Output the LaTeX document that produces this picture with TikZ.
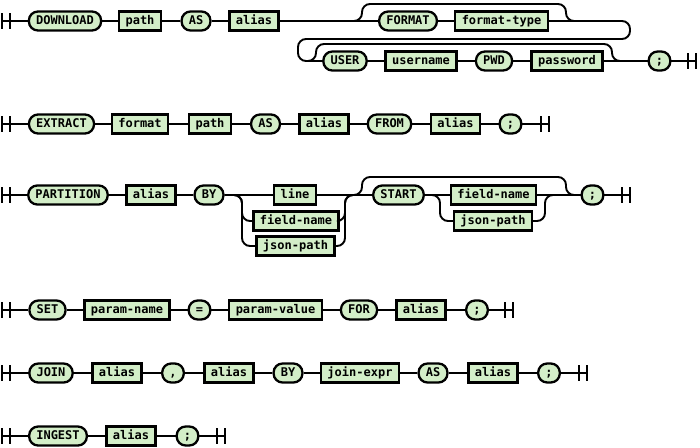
\documentclass[tikz,border=0pt]{standalone}
\usepackage{fontspec}
\setmonofont{DejaVu Sans Mono}
\usetikzlibrary{positioning}
\definecolor{boxgreen}{HTML}{D3EEC8}
\tikzset{
  rail/.style={line width=1.9pt},
  railbox/.style={draw=black, line width=2.3pt, fill=boxgreen, minimum height=19pt, inner ysep=0pt, text height=8.8pt, text depth=2.4pt, font=\ttfamily\bfseries\fontsize{12}{12}\selectfont},
  term/.style={railbox, rounded corners=9pt, inner xsep=7.2pt},
  nonterm/.style={railbox, inner xsep=6.5pt},
  railbars/.pic={\draw[rail] (0,-8) -- (0,8) (8,-8) -- (8,8);}
}
\begin{document}
\begin{tikzpicture}[x=1pt, y=-1pt]
  \useasboundingbox (0,0) rectangle (700,447);
  % DOWNLOAD
  \node[term] (download) at (65,21) {DOWNLOAD};
  \node[nonterm] (dlpath) at (140,21) {path};
  \node[term] (dlas) at (196,21) {AS};
  \node[nonterm] (dlalias) at (254,21) {alias};
  \node[term] (dlformat) at (408,21) {FORMAT};
  \node[nonterm] (dltype) at (501.5,21) {format-type};
  \node[term] (dluser) at (345,61) {USER};
  \node[nonterm] (dlname) at (421,61) {username};
  \node[term] (dlpwd) at (494,61) {PWD};
  \node[nonterm] (dlpass) at (567,61) {password};
  \node[term] (dlsemi) at (659.5,61) {;};
  \coordinate (dlstart) at (2,21);
  \coordinate (dljoin) at (580,21);
  \coordinate (dlfork) at (306,61);
  \coordinate (dlend) at (696,61);
  \pic at (2,21) {railbars};
  \pic at (688,61) {railbars};
  \draw[rail] (dlstart) -- (download);
  \draw[rail] (download) -- (dlpath);
  \draw[rail] (dlpath) -- (dlas);
  \draw[rail] (dlas) -- (dlalias);
  \draw[rail] (dlalias) -- (dlformat);
  \draw[rail] (dlformat) -- (dltype);
  \draw[rail] (dltype) -- (dljoin);
  \draw[rail, rounded corners=8pt] (dlalias.east) -- (362,21) -- (362,4) -- (566,4) -- (566,21) -- (dljoin);
  \draw[rail, rounded corners=8pt] (dljoin) -- (630,21) -- (630,39) -- (298,39) -- (298,61) -- (dluser.west);
  \draw[rail, rounded corners=8pt] (dlfork) -- (316,61) -- (316,44) -- (612,44) -- (612,61) -- (dlsemi.west);
  \draw[rail] (dluser) -- (dlname);
  \draw[rail] (dlname) -- (dlpwd);
  \draw[rail] (dlpwd) -- (dlpass);
  \draw[rail] (dlpass) -- (dlsemi);
  \draw[rail] (dlsemi) -- (dlend);
  % EXTRACT
  \node[term] (extract) at (61.5,124) {EXTRACT};
  \node[nonterm] (exformat) at (140,124) {format};
  \node[nonterm] (expath) at (210,124) {path};
  \node[term] (exas) at (265.5,124) {AS};
  \node[nonterm] (exalias) at (324,124) {alias};
  \node[term] (exfrom) at (389.5,124) {FROM};
  \node[nonterm] (exsource) at (455.5,124) {alias};
  \node[term] (exsemi) at (510.5,124) {;};
  \coordinate (exstart) at (2,124);
  \coordinate (exend) at (549,124);
  \pic at (2,124) {railbars};
  \pic at (541,124) {railbars};
  \draw[rail] (exstart) -- (extract);
  \draw[rail] (extract) -- (exformat);
  \draw[rail] (exformat) -- (expath);
  \draw[rail] (expath) -- (exas);
  \draw[rail] (exas) -- (exalias);
  \draw[rail] (exalias) -- (exfrom);
  \draw[rail] (exfrom) -- (exsource);
  \draw[rail] (exsource) -- (exsemi);
  \draw[rail] (exsemi) -- (exend);
  % PARTITION
  \node[term] (partition) at (68,195) {PARTITION};
  \node[nonterm] (ptalias) at (151,195) {alias};
  \node[term] (ptby) at (209,195) {BY};
  \node[nonterm] (ptline) at (295,195) {line};
  \node[nonterm] (ptfield) at (296,221) {field-name};
  \node[nonterm] (ptjson) at (295.5,246) {json-path};
  \node[term] (ptstart) at (398.5,195) {START};
  \node[nonterm] (ptfieldb) at (493.5,195) {field-name};
  \node[nonterm] (ptjsonb) at (493,221) {json-path};
  \node[term] (ptsemi) at (592.5,195) {;};
  \coordinate (ptbegin) at (2,195);
  \coordinate (ptend) at (630,195);
  \pic at (2,195) {railbars};
  \pic at (622,195) {railbars};
  \draw[rail] (ptbegin) -- (partition);
  \draw[rail] (partition) -- (ptalias);
  \draw[rail] (ptalias) -- (ptby);
  \draw[rail] (ptby) -- (ptline);
  \draw[rail, rounded corners=8pt] (ptby.east) -- (242,195) -- (242,221) -- (ptfield.west);
  \draw[rail, rounded corners=8pt] (ptby.east) -- (242,195) -- (242,246) -- (ptjson.west);
  \draw[rail] (ptline) -- (ptstart);
  \draw[rail, rounded corners=8pt] (ptfield.east) -- (345,221) -- (345,195) -- (ptstart.west);
  \draw[rail, rounded corners=8pt] (ptjson.east) -- (345,246) -- (345,195) -- (ptstart.west);
  \draw[rail, rounded corners=8pt] (ptline.east) -- (362,195) -- (362,177) -- (566,177) -- (566,195) -- (ptsemi.west);
  \draw[rail] (ptstart) -- (ptfieldb);
  \draw[rail, rounded corners=8pt] (ptstart.east) -- (440,195) -- (440,221) -- (ptjsonb.west);
  \draw[rail] (ptfieldb) -- (ptsemi);
  \draw[rail, rounded corners=8pt] (ptjsonb.east) -- (545,221) -- (545,195) -- (ptsemi.west);
  \draw[rail] (ptsemi) -- (ptend);
  % SET
  \node[term] (set) at (47.5,310) {SET};
  \node[nonterm] (stname) at (127,310) {param-name};
  \node[term] (steq) at (199.5,310) {=};
  \node[nonterm] (stvalue) at (275.5,310) {param-value};
  \node[term] (stfor) at (359,310) {FOR};
  \node[nonterm] (stalias) at (421,310) {alias};
  \node[term] (stsemi) at (477,310) {;};
  \coordinate (ststart) at (2,310);
  \coordinate (stend) at (513,310);
  \pic at (2,310) {railbars};
  \pic at (505,310) {railbars};
  \draw[rail] (ststart) -- (set);
  \draw[rail] (set) -- (stname);
  \draw[rail] (stname) -- (steq);
  \draw[rail] (steq) -- (stvalue);
  \draw[rail] (stvalue) -- (stfor);
  \draw[rail] (stfor) -- (stalias);
  \draw[rail] (stalias) -- (stsemi);
  \draw[rail] (stsemi) -- (stend);
  % JOIN
  \node[term] (join) at (51,373) {JOIN};
  \node[nonterm] (jnleft) at (117,373) {alias};
  \node[term] (jncomma) at (173,373) {,};
  \node[nonterm] (jnright) at (229,373) {alias};
  \node[term] (jnby) at (288,373) {BY};
  \node[nonterm] (jnexpr) at (360,373) {join-expr};
  \node[term] (jnas) at (433,373) {AS};
  \node[nonterm] (jnalias) at (493,373) {alias};
  \node[term] (jnsemi) at (549,373) {;};
  \coordinate (jnstart) at (2,373);
  \coordinate (jnend) at (587,373);
  \pic at (2,373) {railbars};
  \pic at (579,373) {railbars};
  \draw[rail] (jnstart) -- (join);
  \draw[rail] (join) -- (jnleft);
  \draw[rail] (jnleft) -- (jncomma);
  \draw[rail] (jncomma) -- (jnright);
  \draw[rail] (jnright) -- (jnby);
  \draw[rail] (jnby) -- (jnexpr);
  \draw[rail] (jnexpr) -- (jnas);
  \draw[rail] (jnas) -- (jnalias);
  \draw[rail] (jnalias) -- (jnsemi);
  \draw[rail] (jnsemi) -- (jnend);
  % INGEST
  \node[term] (ingest) at (58,436) {INGEST};
  \node[nonterm] (igalias) at (131,436) {alias};
  \node[term] (igsemi) at (187.5,436) {;};
  \coordinate (igstart) at (2,436);
  \coordinate (igend) at (225,436);
  \pic at (2,436) {railbars};
  \pic at (217,436) {railbars};
  \draw[rail] (igstart) -- (ingest);
  \draw[rail] (ingest) -- (igalias);
  \draw[rail] (igalias) -- (igsemi);
  \draw[rail] (igsemi) -- (igend);
\end{tikzpicture}
\end{document}
